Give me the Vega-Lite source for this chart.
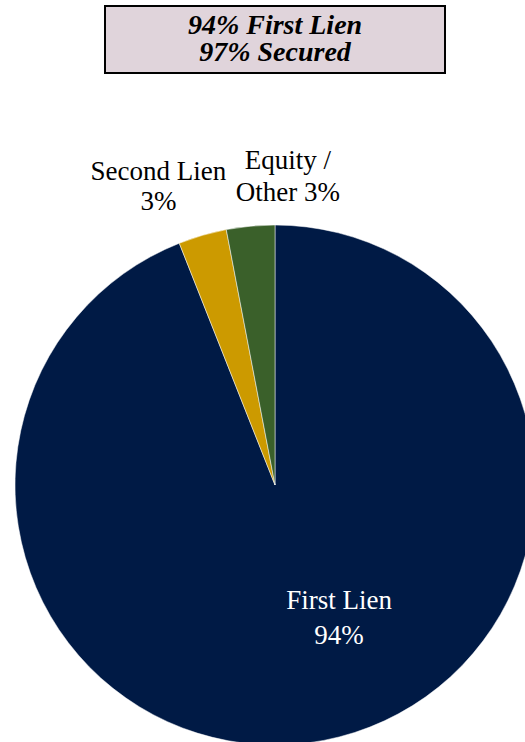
{
  "$schema": "https://vega.github.io/schema/vega-lite/v6.json",
  "autosize": {"type": "pad"},
  "padding": {"left": 14, "top": 5, "right": 0, "bottom": 0},
  "background": "#ffffff",
  "bounds": "flush",
  "spacing": 152,
  "center": true,
  "config": {"font": "Liberation Serif"},
  "vconcat": [
    {
      "width": 340,
      "height": 67,
      "view": {"fill": "#e0d4db", "stroke": "#000000", "strokeWidth": 2},
      "data": {"values": [
        {"line": 1, "text": "94% First Lien"},
        {"line": 2, "text": "97% Secured"}
      ]},
      "mark": {"type": "text", "font": "Liberation Serif", "fontSize": 28, "fontWeight": "bold", "fontStyle": "italic", "color": "#000000", "align": "center", "baseline": "middle"},
      "encoding": {
        "y": {"field": "line", "type": "ordinal", "axis": null, "scale": {"padding": 0.7}},
        "text": {"field": "text"}
      }
    },
    {
      "width": 520,
      "height": 520,
      "data": {"values": [
        {"idx": 1, "category": "First Lien", "value": 94, "label": "First Lien\n94%"},
        {"idx": 2, "category": "Second Lien", "value": 3, "label": "Second Lien\n3%"},
        {"idx": 3, "category": "Equity / Other", "value": 3, "label": "Equity /\nOther 3%"}
      ]},
      "encoding": {
        "theta": {"field": "value", "type": "quantitative", "stack": true},
        "order": {"field": "idx", "type": "quantitative"}
      },
      "layer": [
        {
          "mark": {"type": "arc", "stroke": "#ffffff", "strokeWidth": 0.5},
          "encoding": {
            "color": {"field": "category", "type": "nominal", "legend": null,
              "scale": {"domain": ["First Lien", "Second Lien", "Equity / Other"], "range": ["#001a45", "#cc9a00", "#3a602a"]}}
          }
        },
        {
          "mark": {"type": "text", "radius": 150, "dx": 36, "dy": -31, "fontSize": 27, "lineHeight": 35, "lineBreak": "\n", "color": "#ffffff", "align": "center", "baseline": "middle"},
          "encoding": {
            "text": {"condition": {"test": "datum.category === 'First Lien'", "field": "label"}, "value": ""}
          }
        },
        {
          "mark": {"type": "text", "radius": 321, "dx": -27, "dy": -5, "fontSize": 27, "lineHeight": 30, "lineBreak": "\n", "color": "#000000", "align": "center", "baseline": "middle"},
          "encoding": {
            "text": {"condition": {"test": "datum.category === 'Second Lien'", "field": "label"}, "value": ""}
          }
        },
        {
          "mark": {"type": "text", "radius": 309, "dx": 42, "dy": -16, "fontSize": 27, "lineHeight": 32, "lineBreak": "\n", "color": "#000000", "align": "center", "baseline": "middle"},
          "encoding": {
            "text": {"condition": {"test": "datum.category === 'Equity / Other'", "field": "label"}, "value": ""}
          }
        }
      ]
    }
  ]
}
